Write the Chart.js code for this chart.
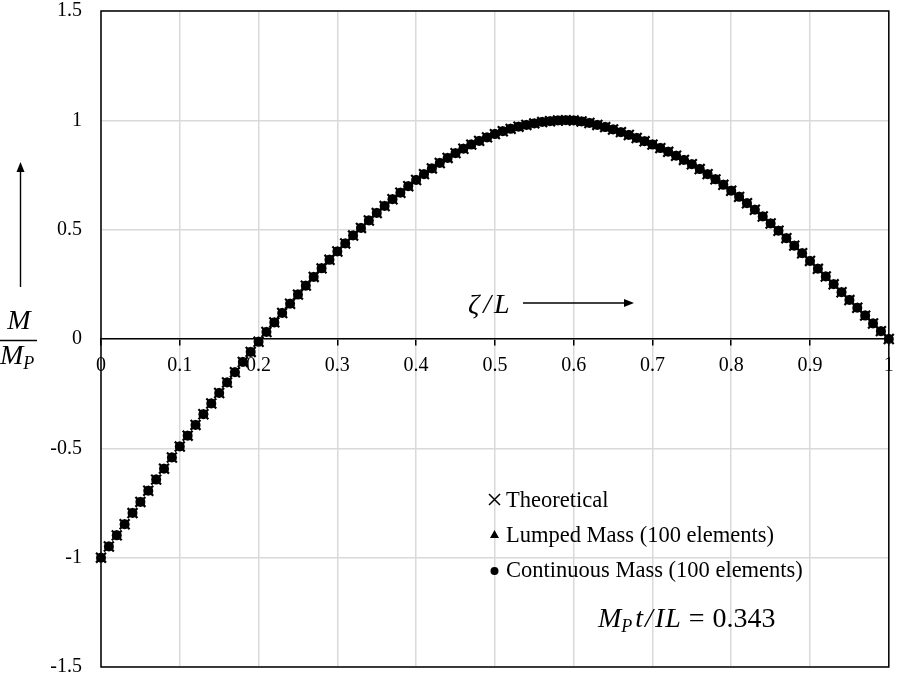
<!DOCTYPE html>
<html>
<head>
<meta charset="utf-8">
<script src="https://cdn.jsdelivr.net/npm/chart.js@4"></script>
<style>
    html, body { margin: 0; padding: 0; overflow: hidden; background: #fff; }
    #wrap { width: 898px; height: 682px; position: relative; }
    #momentChart { display: block; }
</style>
</head>
<body>
<div id="wrap"><canvas id="momentChart"></canvas></div>
<script>
const zeta = [
    0, 0.01, 0.02, 0.03, 0.04, 0.05, 0.06, 0.07, 0.08, 0.09,
    0.1, 0.11, 0.12, 0.13, 0.14, 0.15, 0.16, 0.17, 0.18, 0.19,
    0.2, 0.21, 0.22, 0.23, 0.24, 0.25, 0.26, 0.27, 0.28, 0.29,
    0.3, 0.31, 0.32, 0.33, 0.34, 0.35, 0.36, 0.37, 0.38, 0.39,
    0.4, 0.41, 0.42, 0.43, 0.44, 0.45, 0.46, 0.47, 0.48, 0.49,
    0.5, 0.51, 0.52, 0.53, 0.54, 0.55, 0.56, 0.57, 0.58, 0.59,
    0.6, 0.61, 0.62, 0.63, 0.64, 0.65, 0.66, 0.67, 0.68, 0.69,
    0.7, 0.71, 0.72, 0.73, 0.74, 0.75, 0.76, 0.77, 0.78, 0.79,
    0.8, 0.81, 0.82, 0.83, 0.84, 0.85, 0.86, 0.87, 0.88, 0.89,
    0.9, 0.91, 0.92, 0.93, 0.94, 0.95, 0.96, 0.97, 0.98, 0.99,
    1
];

// M/Mp; the three solutions lie on top of each other
const momentRatio = [
    -1.000, -0.949, -0.898, -0.847, -0.796, -0.745, -0.694, -0.643, -0.593, -0.542,
    -0.492, -0.442, -0.393, -0.344, -0.295, -0.247, -0.199, -0.152, -0.105, -0.059,
    -0.013, 0.032, 0.076, 0.119, 0.161, 0.203, 0.244, 0.284, 0.323, 0.362,
    0.400, 0.437, 0.473, 0.508, 0.542, 0.576, 0.608, 0.639, 0.669, 0.699,
    0.727, 0.754, 0.780, 0.805, 0.828, 0.850, 0.870, 0.889, 0.906, 0.922,
    0.937, 0.950, 0.961, 0.971, 0.979, 0.986, 0.992, 0.996, 0.999, 1.000,
    0.999, 0.995, 0.988, 0.979, 0.969, 0.958, 0.946, 0.933, 0.919, 0.904,
    0.889, 0.873, 0.856, 0.838, 0.819, 0.799, 0.777, 0.754, 0.730, 0.705,
    0.678, 0.650, 0.621, 0.591, 0.560, 0.528, 0.495, 0.461, 0.427, 0.392,
    0.357, 0.321, 0.286, 0.250, 0.214, 0.178, 0.143, 0.107, 0.071, 0.036,
    0.000
];

const seriesNames = ["Theoretical", "Lumped Mass (100 elements)", "Continuous Mass (100 elements)"];
const xTickLabels = ["0", "0.1", "0.2", "0.3", "0.4", "0.5", "0.6", "0.7", "0.8", "0.9", "1"];
const yTickLabels = ["-1.5", "-1", "-0.5", "0", "0.5", "1", "1.5"];

const points = zeta.map((x, i) => ({ x: x, y: momentRatio[i] }));
const serif = "'Liberation Serif', 'Times New Roman', serif";
const noPadding = () => ({ left: 0, top: 0, right: 0, bottom: 0 });

function arrow(ctx, x1, y1, x2, y2) {
    const a = Math.atan2(y2 - y1, x2 - x1);
    ctx.beginPath();
    ctx.moveTo(x1, y1);
    ctx.lineTo(x2 - 7 * Math.cos(a), y2 - 7 * Math.sin(a));
    ctx.stroke();
    ctx.beginPath();
    ctx.moveTo(x2, y2);
    ctx.lineTo(x2 - 10 * Math.cos(a) + 4 * Math.sin(a), y2 - 10 * Math.sin(a) - 4 * Math.cos(a));
    ctx.lineTo(x2 - 10 * Math.cos(a) - 4 * Math.sin(a), y2 - 10 * Math.sin(a) + 4 * Math.cos(a));
    ctx.closePath();
    ctx.fill();
}

// writes pieces one after another, each with its own font and offset
function runs(ctx, x, y, parts) {
    parts.forEach(([text, font, dy, gap]) => {
        ctx.font = font;
        ctx.fillText(text, x, y + dy);
        x += ctx.measureText(text).width + gap;
    });
}

const annotations = {
    id: "annotations",
    afterDraw(chart) {
        const { ctx, chartArea } = chart;
        ctx.save();
        ctx.strokeStyle = "#000";
        ctx.fillStyle = "#000";
        ctx.lineWidth = 1.5;
        ctx.strokeRect(chartArea.left, chartArea.top, chartArea.right - chartArea.left, chartArea.bottom - chartArea.top);

        // legend inside the plot
        ctx.font = "22.5px " + serif;
        ctx.textBaseline = "alphabetic";
        ctx.textAlign = "left";
        const legendY = [507, 542, 577];
        seriesNames.forEach((name, i) => {
            ctx.fillText(name, 506, legendY[i]);
        });
        ctx.lineWidth = 1.5;
        ctx.beginPath();
        ctx.moveTo(489, 494); ctx.lineTo(500, 505);
        ctx.moveTo(500, 494); ctx.lineTo(489, 505);
        ctx.stroke();
        ctx.beginPath();
        ctx.moveTo(494.5, 530); ctx.lineTo(499, 538); ctx.lineTo(490, 538);
        ctx.closePath();
        ctx.fill();
        ctx.beginPath();
        ctx.arc(494.5, 571, 4, 0, Math.PI * 2);
        ctx.fill();

        // parameter note
        const it = "italic 28px " + serif;
        const sub = "italic 18px " + serif;
        const up = "28px " + serif;
        runs(ctx, 598, 627, [
            ["M", it, 0, 0], ["P", sub, 5, 3], ["t", it, 0, 2], ["/", it, 0, 2],
            ["I", it, 0, 1], ["L", it, 0, 8], ["=", up, 0, 8], ["0.343", up, 0, 0]
        ]);

        // x axis title with arrow
        runs(ctx, 468, 313, [["\u03B6", it, 0, 4], ["/", it, 0, 3], ["L", it, 0, 0]]);
        ctx.lineWidth = 1.4;
        arrow(ctx, 523, 303, 634, 303);

        // y axis title with arrow
        arrow(ctx, 20.5, 287, 20.5, 162);
        ctx.textAlign = "center";
        ctx.font = it;
        ctx.fillText("M", 19, 329);
        ctx.beginPath();
        ctx.moveTo(0, 340.5);
        ctx.lineTo(37, 340.5);
        ctx.stroke();
        ctx.textAlign = "left";
        runs(ctx, 0, 364, [["M", it, 0, 0], ["P", sub, 5, 0]]);
        ctx.restore();
    }
};

new Chart(document.getElementById("momentChart"), {
    type: "scatter",
    data: {
        datasets: [
            {
                label: seriesNames[2],
                data: points,
                pointStyle: "circle",
                pointRadius: 5,
                backgroundColor: "#000",
                borderColor: "#000",
                borderWidth: 0,
                clip: false
            },
            {
                label: seriesNames[1],
                data: points,
                pointStyle: "triangle",
                pointRadius: 5.5,
                backgroundColor: "#000",
                borderColor: "#000",
                borderWidth: 0,
                clip: false
            },
            {
                label: seriesNames[0],
                data: points,
                pointStyle: "crossRot",
                pointRadius: 7,
                borderColor: "#000",
                borderWidth: 2.2,
                clip: false
            }
        ]
    },
    options: {
        responsive: true,
        maintainAspectRatio: false,
        animation: false,
        layout: {
            padding: { top: 11, right: 5, bottom: 15, left: 0 }
        },
        plugins: {
            legend: { display: false },
            tooltip: { enabled: false }
        },
        scales: {
            x: {
                type: "linear",
                position: { y: 0 },
                min: 0,
                max: 1,
                afterFit: (scale) => {
                    scale.paddingLeft = 0;
                    scale.paddingRight = 0;
                    scale.getPadding = noPadding;
                },
                ticks: {
                    stepSize: 0.1,
                    color: "#000",
                    font: { family: serif, size: 20 },
                    padding: 9,
                    maxRotation: 0,
                    callback: (v, i) => xTickLabels[i]
                },
                grid: {
                    color: "#d9d9d9",
                    lineWidth: 1.5,
                    tickColor: "#000",
                    tickLength: 6
                },
                border: { color: "#000", width: 1.5 }
            },
            y: {
                min: -1.5,
                max: 1.5,
                afterFit: (scale) => {
                    scale.width = 101;
                    scale.paddingTop = 0;
                    scale.paddingBottom = 0;
                    scale.getPadding = noPadding;
                },
                ticks: {
                    stepSize: 0.5,
                    color: "#000",
                    font: { family: serif, size: 20 },
                    padding: 19,
                    callback: (v, i) => yTickLabels[i]
                },
                grid: {
                    color: "#d9d9d9",
                    lineWidth: 1.5,
                    drawTicks: false
                },
                border: { display: false }
            }
        }
    },
    plugins: [annotations]
});
</script>
</body>
</html>
